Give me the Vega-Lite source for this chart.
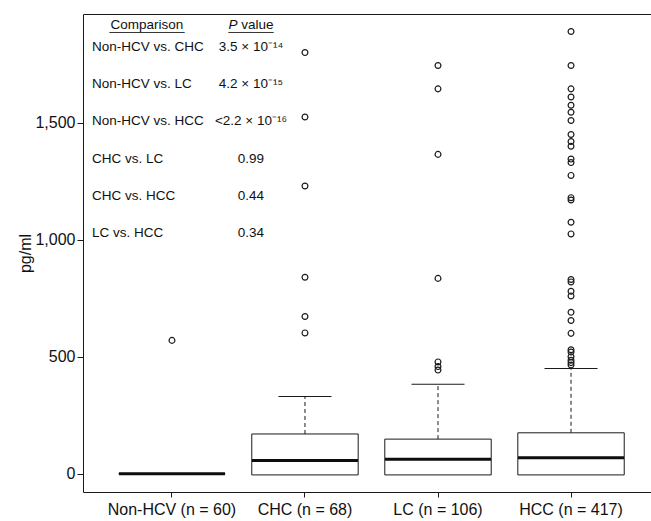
{
  "$schema": "https://vega.github.io/schema/vega-lite/v6.json",
  "autosize": "none",
  "width": 568,
  "height": 478,
  "padding": {"left": 83, "top": 14, "right": 0, "bottom": 29},
  "background": "white",
  "config": {
    "view": {"stroke": null},
    "font": "Liberation Sans",
    "text": {"font": "Liberation Sans", "fontSize": 13.5, "color": "#111"},
    "tick": {"opacity": 1},
    "axis": {"grid": false, "domainColor": "#1a1a1a", "tickColor": "#1a1a1a", "labelColor": "#111", "titleColor": "#111", "labelFont": "Liberation Sans", "titleFont": "Liberation Sans"}
  },
  "datasets": {
    "boxes": [
      {"group": "Non-HCV (n = 60)", "lower": 0, "q1": 0, "median": 0, "q3": 0, "upper": 0},
      {"group": "CHC (n = 68)", "lower": -5, "q1": -5, "median": 57, "q3": 170, "upper": 330},
      {"group": "LC (n = 106)", "lower": -5, "q1": -5, "median": 62, "q3": 148, "upper": 382},
      {"group": "HCC (n = 417)", "lower": -5, "q1": -5, "median": 68, "q3": 175, "upper": 450}
    ],
    "outliers": [
      {"group": "Non-HCV (n = 60)", "value": 570},
      {"group": "CHC (n = 68)", "value": 1800},
      {"group": "CHC (n = 68)", "value": 1525},
      {"group": "CHC (n = 68)", "value": 1230},
      {"group": "CHC (n = 68)", "value": 840},
      {"group": "CHC (n = 68)", "value": 672},
      {"group": "CHC (n = 68)", "value": 602},
      {"group": "LC (n = 106)", "value": 1745},
      {"group": "LC (n = 106)", "value": 1645},
      {"group": "LC (n = 106)", "value": 1365},
      {"group": "LC (n = 106)", "value": 835},
      {"group": "LC (n = 106)", "value": 478},
      {"group": "LC (n = 106)", "value": 458},
      {"group": "LC (n = 106)", "value": 443},
      {"group": "HCC (n = 417)", "value": 1890},
      {"group": "HCC (n = 417)", "value": 1745},
      {"group": "HCC (n = 417)", "value": 1645},
      {"group": "HCC (n = 417)", "value": 1610},
      {"group": "HCC (n = 417)", "value": 1575},
      {"group": "HCC (n = 417)", "value": 1545},
      {"group": "HCC (n = 417)", "value": 1510},
      {"group": "HCC (n = 417)", "value": 1450},
      {"group": "HCC (n = 417)", "value": 1420},
      {"group": "HCC (n = 417)", "value": 1400},
      {"group": "HCC (n = 417)", "value": 1345},
      {"group": "HCC (n = 417)", "value": 1330},
      {"group": "HCC (n = 417)", "value": 1275},
      {"group": "HCC (n = 417)", "value": 1180},
      {"group": "HCC (n = 417)", "value": 1170},
      {"group": "HCC (n = 417)", "value": 1075},
      {"group": "HCC (n = 417)", "value": 1025},
      {"group": "HCC (n = 417)", "value": 830},
      {"group": "HCC (n = 417)", "value": 820},
      {"group": "HCC (n = 417)", "value": 780},
      {"group": "HCC (n = 417)", "value": 760},
      {"group": "HCC (n = 417)", "value": 690},
      {"group": "HCC (n = 417)", "value": 655},
      {"group": "HCC (n = 417)", "value": 600},
      {"group": "HCC (n = 417)", "value": 530},
      {"group": "HCC (n = 417)", "value": 520},
      {"group": "HCC (n = 417)", "value": 500},
      {"group": "HCC (n = 417)", "value": 485},
      {"group": "HCC (n = 417)", "value": 475},
      {"group": "HCC (n = 417)", "value": 465}
    ],
    "table": [
      {"row": 1, "comparison": "Non-HCV vs. CHC", "p": "3.5 × 10⁻¹⁴"},
      {"row": 2, "comparison": "Non-HCV vs. LC", "p": "4.2 × 10⁻¹⁵"},
      {"row": 3, "comparison": "Non-HCV vs. HCC", "p": "<2.2 × 10⁻¹⁶"},
      {"row": 4, "comparison": "CHC vs. LC", "p": "0.99"},
      {"row": 5, "comparison": "CHC vs. HCC", "p": "0.44"},
      {"row": 6, "comparison": "LC vs. HCC", "p": "0.34"}
    ],
    "headers": [{"h": 1}]
  },
  "layer": [
    {
      "layer": [
        {
          "data": {"name": "boxes"},
          "mark": {"type": "rule", "stroke": "#1a1a1a", "strokeWidth": 1, "strokeDash": [4, 3]},
          "encoding": {
            "x": {"field": "group", "type": "nominal", "title": null,
              "scale": {"domain": ["Non-HCV (n = 60)", "CHC (n = 68)", "LC (n = 106)", "HCC (n = 417)"], "paddingInner": 0, "paddingOuter": 0.135, "align": 0.625},
              "axis": {"labelFontSize": 16, "labelAngle": 0, "tickSize": 5, "labelPadding": 4, "domain": true}},
            "y": {"field": "q3", "type": "quantitative", "title": "pg/ml",
              "scale": {"domain": [-78, 1965], "nice": false, "zero": false},
              "axis": {"values": [0, 500, 1000, 1500], "format": ",d", "labelFontSize": 16, "titleFontSize": 16, "titleFontWeight": "normal", "tickSize": 6, "labelPadding": 2, "titlePadding": 1}},
            "y2": {"field": "upper"}
          }
        },
        {
          "data": {"name": "boxes"},
          "mark": {"type": "tick", "color": "#1a1a1a", "size": 53, "thickness": 1, "opacity": 1},
          "encoding": {
            "x": {"field": "group", "type": "nominal", "title": null},
            "y": {"field": "upper", "type": "quantitative", "title": "pg/ml"}
          }
        },
        {
          "data": {"name": "boxes"},
          "mark": {"type": "bar", "fill": "white", "stroke": "#1a1a1a", "strokeWidth": 1, "width": {"band": 0.8}},
          "encoding": {
            "x": {"field": "group", "type": "nominal", "title": null},
            "y": {"field": "q1", "type": "quantitative", "title": "pg/ml"},
            "y2": {"field": "q3"}
          }
        },
        {
          "data": {"name": "boxes"},
          "mark": {"type": "tick", "color": "#0d0d0d", "size": 106, "thickness": 3, "opacity": 1},
          "encoding": {
            "x": {"field": "group", "type": "nominal", "title": null},
            "y": {"field": "median", "type": "quantitative", "title": "pg/ml"}
          }
        },
        {
          "data": {"name": "outliers"},
          "mark": {"type": "point", "shape": "circle", "filled": false, "stroke": "#1a1a1a", "strokeWidth": 1.2, "size": 34, "opacity": 1},
          "encoding": {
            "x": {"field": "group", "type": "nominal", "title": null},
            "y": {"field": "value", "type": "quantitative", "title": "pg/ml"}
          }
        }
      ]
    },
    {
      "layer": [
        {
          "data": {"name": "table"},
          "mark": {"type": "text", "align": "left", "baseline": "middle", "dx": -13.5},
          "encoding": {
            "x": {"datum": "Non-HCV (n = 60)", "type": "nominal", "bandPosition": 0,
              "scale": {"type": "band", "domain": ["Non-HCV (n = 60)", "CHC (n = 68)", "LC (n = 106)", "HCC (n = 417)"], "paddingInner": 0, "paddingOuter": 0.135, "align": 0.625},
              "axis": {"orient": "top", "labels": false, "ticks": false, "title": null, "domain": true}},
            "y": {"field": "row", "type": "quantitative",
              "scale": {"domain": [0.1129, 12.9629], "reverse": true, "nice": false, "zero": false},
              "axis": null},
            "text": {"field": "comparison"}
          }
        },
        {
          "data": {"name": "table"},
          "mark": {"type": "text", "align": "center", "baseline": "middle", "dx": 12.5},
          "encoding": {
            "x": {"datum": "CHC (n = 68)", "type": "nominal", "bandPosition": 0},
            "y": {"field": "row", "type": "quantitative"},
            "text": {"field": "p"}
          }
        },
        {
          "data": {"name": "headers"},
          "mark": {"type": "text", "align": "center", "baseline": "middle", "dy": -22, "dx": 41.5, "text": "Comparison"},
          "encoding": {
            "x": {"datum": "Non-HCV (n = 60)", "type": "nominal", "bandPosition": 0},
            "y": {"field": "h", "type": "quantitative"}
          }
        },
        {
          "data": {"name": "headers"},
          "mark": {"type": "text", "align": "center", "baseline": "middle", "dy": -21, "dx": 41.5, "text": "__________"},
          "encoding": {
            "x": {"datum": "Non-HCV (n = 60)", "type": "nominal", "bandPosition": 0},
            "y": {"field": "h", "type": "quantitative"}
          }
        },
        {
          "data": {"name": "headers"},
          "mark": {"type": "text", "align": "right", "baseline": "middle", "dy": -22, "dx": -1, "fontStyle": "italic", "text": "P"},
          "encoding": {
            "x": {"datum": "CHC (n = 68)", "type": "nominal", "bandPosition": 0},
            "y": {"field": "h", "type": "quantitative"}
          }
        },
        {
          "data": {"name": "headers"},
          "mark": {"type": "text", "align": "left", "baseline": "middle", "dy": -22, "dx": 2.7, "text": "value"},
          "encoding": {
            "x": {"datum": "CHC (n = 68)", "type": "nominal", "bandPosition": 0},
            "y": {"field": "h", "type": "quantitative"}
          }
        },
        {
          "data": {"name": "headers"},
          "mark": {"type": "text", "align": "center", "baseline": "middle", "dy": -21, "dx": 12.5, "text": "______"},
          "encoding": {
            "x": {"datum": "CHC (n = 68)", "type": "nominal", "bandPosition": 0},
            "y": {"field": "h", "type": "quantitative"}
          }
        }
      ]
    }
  ],
  "resolve": {"scale": {"x": "independent", "y": "independent"}}
}
